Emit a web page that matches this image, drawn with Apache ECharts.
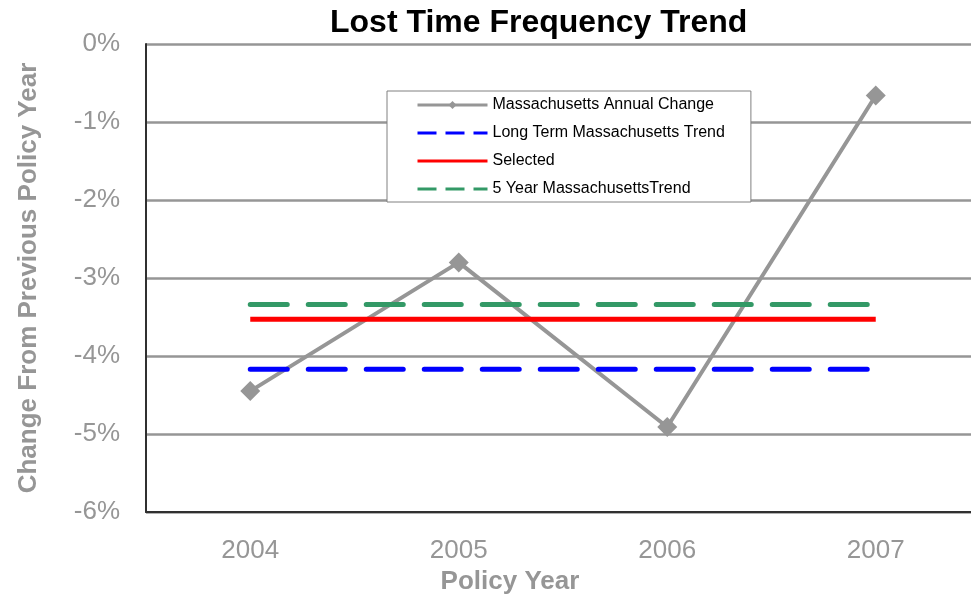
<!DOCTYPE html>
<html>
<head>
<meta charset="utf-8">
<script src="https://cdn.jsdelivr.net/npm/echarts@6/dist/echarts.min.js"></script>
<style>
  html, body { margin: 0; padding: 0; background: #fff; }
  #chart { width: 971px; height: 600px; }
</style>
</head>
<body>
<div id="chart"></div>
<script>
// policy years on the x axis
var years = ['2004', '2005', '2006', '2007'];

// values in percent
var annualChange = [-4.45, -2.8, -4.91, -0.66];
var longTermTrend = [-4.17, -4.17, -4.17, -4.17];
var selectedTrend = [-3.53, -3.53, -3.53, -3.53];
var fiveYearTrend = [-3.34, -3.34, -3.34, -3.34];

var names = [
    'Massachusetts Annual Change',
    'Long Term Massachusetts Trend',
    'Selected',
    '5 Year MassachusettsTrend'
];

var gray = '#969696';
var font = 'Liberation Sans, Arial, sans-serif';

var chart = echarts.init(document.getElementById('chart'));

function trendLine(name, data, color, dashed) {
    return {
        name: name,
        type: 'line',
        data: data,
        symbol: 'none',
        silent: true,
        lineStyle: {
            color: color,
            width: 5,
            type: dashed ? [37, 21] : 'solid',
            cap: dashed ? 'round' : 'butt'
        },
        itemStyle: { color: color }
    };
}

// legend entries: thin lines, no symbol on the trend lines
function legendItem(name, dashed) {
    return {
        name: name,
        itemStyle: { opacity: 0 },
        lineStyle: { width: 3, type: dashed ? [19, 9] : 'solid', cap: 'butt' }
    };
}

var option = {
    animation: false,
    backgroundColor: '#fff',
    title: {
        text: 'Lost Time Frequency Trend',
        left: 330,
        top: 7,
        padding: 0,
        textStyle: {
            fontFamily: font,
            fontSize: 32,
            fontWeight: 'bold',
            color: '#000'
        }
    },
    legend: {
        orient: 'vertical',
        left: 387,
        top: 91,
        padding: [6, 26, 5, 29],
        itemWidth: 70,
        itemHeight: 10,
        itemGap: 12,
        backgroundColor: '#fff',
        borderColor: '#808080',
        borderWidth: 1,
        selectedMode: false,
        textStyle: { fontFamily: font, fontSize: 16, color: '#000' },
        data: [
            { name: names[0], lineStyle: { width: 3 } },
            legendItem(names[1], true),
            legendItem(names[2], false),
            legendItem(names[3], true)
        ]
    },
    grid: {
        left: 146,
        top: 44,
        width: 834,
        height: 468,
        outerBoundsMode: 'none'
    },
    xAxis: {
        type: 'category',
        data: years,
        boundaryGap: true,
        name: 'Policy Year',
        nameLocation: 'middle',
        nameGap: 54,
        nameTextStyle: {
            fontFamily: font,
            fontSize: 26,
            fontWeight: 'bold',
            color: gray,
            padding: [0, 106, 0, 0]
        },
        axisLine: { onZero: false, lineStyle: { color: '#303030', width: 2 } },
        axisTick: { show: false },
        axisLabel: {
            margin: 26,
            fontFamily: font,
            fontSize: 26,
            color: gray
        }
    },
    yAxis: {
        type: 'value',
        min: -6,
        max: 0,
        interval: 1,
        name: 'Change From Previous Policy Year',
        nameLocation: 'middle',
        nameGap: 104,
        nameTextStyle: {
            fontFamily: font,
            fontSize: 26,
            fontWeight: 'bold',
            color: gray
        },
        axisLine: { show: true, onZero: false, lineStyle: { color: '#303030', width: 2 } },
        axisTick: { show: false },
        axisLabel: {
            margin: 26,
            fontFamily: font,
            fontSize: 26,
            color: gray,
            formatter: '{value}%'
        },
        splitLine: { show: true, lineStyle: { color: gray, width: 2.5 } }
    },
    series: [
        {
            name: names[0],
            type: 'line',
            data: annualChange,
            symbol: 'diamond',
            symbolSize: 20,
            silent: true,
            lineStyle: { color: gray, width: 4 },
            itemStyle: { color: gray }
        },
        trendLine(names[1], longTermTrend, '#0000ff', true),
        trendLine(names[2], selectedTrend, '#ff0000', false),
        trendLine(names[3], fiveYearTrend, '#339966', true)
    ]
};

chart.setOption(option);
</script>
</body>
</html>
